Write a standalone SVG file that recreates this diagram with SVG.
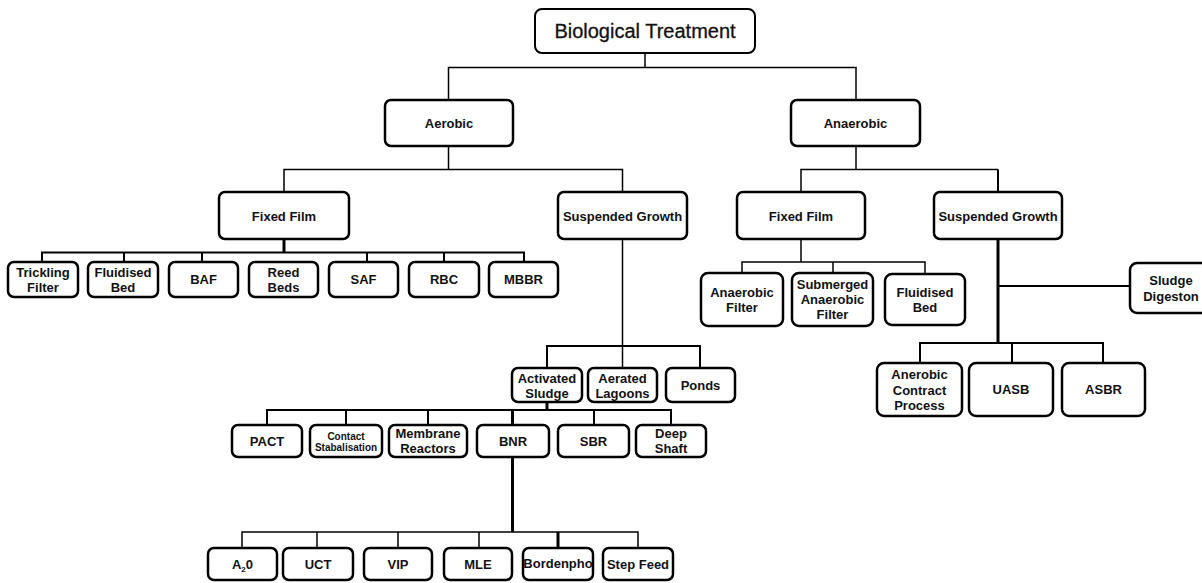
<svg xmlns="http://www.w3.org/2000/svg" width="1202" height="583" viewBox="0 0 1202 583">
<style>
.box{fill:#fff;stroke:#000;stroke-width:2.5}
.root{fill:#fff;stroke:#000;stroke-width:2}
.t{font-family:"Liberation Sans",Arial,sans-serif;font-weight:bold;font-size:13px;text-anchor:middle;fill:#111}
.tr{font-family:"Liberation Sans",Arial,sans-serif;font-size:20px;text-anchor:middle;fill:#111;stroke:#111;stroke-width:0.3}
.s{font-size:10px}
.c{fill:none;stroke:#000;stroke-width:1.5}
.c2{fill:none;stroke:#000;stroke-width:2}
.c3{fill:none;stroke:#000;stroke-width:3}
</style>
<rect width="1202" height="583" fill="#fff"/>
<g id="connectors">
<path class="c" d="M645 53V67.5M448.5 100V67.5H856V100"/>
<path class="c" d="M448.5 146V169.5M284 192V169.5H622.5V192"/>
<path class="c" d="M856 146V169.5M801 192V169.5H998"/>
<path class="c2" d="M998 169.5V192"/>
<path class="c3" d="M284 239V252.5"/>
<path class="c2" d="M42 262V252.5H524V262M124 252.5V262M202 252.5V262M367 252.5V262M444 252.5V262"/>
<path class="c" d="M622.5 239V368"/>
<path class="c2" d="M547 368V346H700V368"/>
<path class="c3" d="M547 402V410"/>
<path class="c2" d="M267 425V410H671V425M346 410V425M428 410V425M594 410V425"/>
<path class="c3" d="M512.5 410V425"/>
<path class="c3" d="M512.5 457V532"/>
<path class="c" d="M242 548V532H638V548M317 532V548M398 532V548M479 532V548"/>
<path class="c3" d="M558 532V548"/>
<path class="c" d="M801 239V262M742 273V262H925V273M833 262V273"/>
<path class="c3" d="M998 239V343"/>
<path class="c2" d="M998 286H1130"/>
<path class="c2" d="M920 363V343H1103V363M1012 343V363"/>
</g>
<g id="n-root"><rect class="root" x="535" y="9" width="220" height="44" rx="7"/><text class="tr" x="645" y="38">Biological Treatment</text></g>
<g id="n-aerobic"><rect class="box" x="385" y="100" width="128" height="46" rx="6"/><text class="t" x="449" y="128">Aerobic</text></g>
<g id="n-anaerobic"><rect class="box" x="791" y="100" width="129" height="46" rx="6"/><text class="t" x="855.5" y="128">Anaerobic</text></g>
<g id="n-ae-ff"><rect class="box" x="219" y="192" width="130" height="47" rx="6"/><text class="t" x="284" y="220.5">Fixed Film</text></g>
<g id="n-ae-sg"><rect class="box" x="558" y="192" width="129" height="47" rx="6"/><text class="t" x="622.5" y="220.5">Suspended Growth</text></g>
<g id="n-an-ff"><rect class="box" x="737" y="192" width="128" height="47" rx="6"/><text class="t" x="801" y="220.5">Fixed Film</text></g>
<g id="n-an-sg"><rect class="box" x="934" y="192" width="128" height="47" rx="6"/><text class="t" x="998" y="220.5">Suspended Growth</text></g>
<g id="n-trickling"><rect class="box" x="8" y="262" width="70" height="35" rx="6"/><text class="t" x="43" y="276.5">Trickling</text><text class="t" x="43" y="291.5">Filter</text></g>
<g id="n-fluid1"><rect class="box" x="88" y="262" width="70" height="35" rx="6"/><text class="t" x="123" y="276.5">Fluidised</text><text class="t" x="123" y="291.5">Bed</text></g>
<g id="n-baf"><rect class="box" x="169" y="262" width="69" height="35" rx="6"/><text class="t" x="203.5" y="284">BAF</text></g>
<g id="n-reed"><rect class="box" x="249" y="262" width="69" height="35" rx="6"/><text class="t" x="283.5" y="276.5">Reed</text><text class="t" x="283.5" y="291.5">Beds</text></g>
<g id="n-saf"><rect class="box" x="329" y="262" width="69" height="35" rx="6"/><text class="t" x="363.5" y="284">SAF</text></g>
<g id="n-rbc"><rect class="box" x="409" y="262" width="70" height="35" rx="6"/><text class="t" x="444" y="284">RBC</text></g>
<g id="n-mbbr"><rect class="box" x="489" y="262" width="69" height="35" rx="6"/><text class="t" x="523.5" y="284">MBBR</text></g>
<g id="n-anfilter"><rect class="box" x="701" y="273" width="82" height="53" rx="7"/><text class="t" x="742" y="296.5">Anaerobic</text><text class="t" x="742" y="311.5">Filter</text></g>
<g id="n-submerged"><rect class="box" x="792" y="273" width="81" height="53" rx="7"/><text class="t" x="832.5" y="288.5">Submerged</text><text class="t" x="832.5" y="303.5">Anaerobic</text><text class="t" x="832.5" y="318.5">Filter</text></g>
<g id="n-fluid2"><rect class="box" x="885" y="274" width="80" height="51" rx="7"/><text class="t" x="925" y="296.5">Fluidised</text><text class="t" x="925" y="312">Bed</text></g>
<g id="n-sludgedig"><rect class="box" x="1130" y="263" width="82" height="50" rx="7"/><text class="t" x="1171" y="284.5">Sludge</text><text class="t" x="1171" y="300.5">Digeston</text></g>
<g id="n-anerobic-cp"><rect class="box" x="877" y="363" width="85" height="53" rx="7"/><text class="t" x="919.5" y="378.5">Anerobic</text><text class="t" x="919.5" y="394.5">Contract</text><text class="t" x="919.5" y="409.5">Process</text></g>
<g id="n-uasb"><rect class="box" x="969" y="363" width="84" height="53" rx="7"/><text class="t" x="1011" y="394">UASB</text></g>
<g id="n-asbr"><rect class="box" x="1062" y="363" width="83" height="53" rx="7"/><text class="t" x="1103.5" y="394">ASBR</text></g>
<g id="n-activated"><rect class="box" x="512" y="368" width="70" height="34" rx="6"/><text class="t" x="547" y="382.5">Activated</text><text class="t" x="547" y="397.5">Sludge</text></g>
<g id="n-aerated"><rect class="box" x="588" y="368" width="69" height="34" rx="6"/><text class="t" x="622.5" y="382.5">Aerated</text><text class="t" x="622.5" y="397.5">Lagoons</text></g>
<g id="n-ponds"><rect class="box" x="666" y="368" width="69" height="34" rx="6"/><text class="t" x="700.5" y="389.5">Ponds</text></g>
<g id="n-pact"><rect class="box" x="232" y="425" width="70" height="32" rx="6"/><text class="t" x="267" y="445.5">PACT</text></g>
<g id="n-contact"><rect class="box" x="310" y="425" width="72" height="32" rx="6"/><text class="t s" x="346" y="439.5">Contact</text><text class="t s" x="346" y="450.5">Stabalisation</text></g>
<g id="n-membrane"><rect class="box" x="389" y="425" width="78" height="32" rx="6"/><text class="t" x="428" y="437.5">Membrane</text><text class="t" x="428" y="453">Reactors</text></g>
<g id="n-bnr"><rect class="box" x="477" y="425" width="72" height="32" rx="6"/><text class="t" x="513" y="445.5">BNR</text></g>
<g id="n-sbr"><rect class="box" x="558" y="425" width="71" height="32" rx="6"/><text class="t" x="593.5" y="445.5">SBR</text></g>
<g id="n-deep"><rect class="box" x="636" y="425" width="70" height="32" rx="6"/><text class="t" x="671" y="437.5">Deep</text><text class="t" x="671" y="452.5">Shaft</text></g>
<g id="n-a20"><rect class="box" x="208" y="548" width="69" height="32" rx="6"/><text class="t" x="242.5" y="568.5">A<tspan font-size="8" dy="3">2</tspan><tspan dy="-3">0</tspan></text></g>
<g id="n-uct"><rect class="box" x="283" y="548" width="70" height="32" rx="6"/><text class="t" x="318" y="568.5">UCT</text></g>
<g id="n-vip"><rect class="box" x="364" y="548" width="68" height="32" rx="6"/><text class="t" x="398" y="568.5">VIP</text></g>
<g id="n-mle"><rect class="box" x="444" y="548" width="68" height="32" rx="6"/><text class="t" x="478" y="568.5">MLE</text></g>
<g id="n-bordenpho"><rect class="box" x="523" y="548" width="70" height="32" rx="6"/><text class="t" x="558" y="567.5" font-size="10.8">Bordenpho</text></g>
<g id="n-stepfeed"><rect class="box" x="603" y="548" width="70" height="32" rx="6"/><text class="t" x="638" y="568.5">Step Feed</text></g>
</svg>
